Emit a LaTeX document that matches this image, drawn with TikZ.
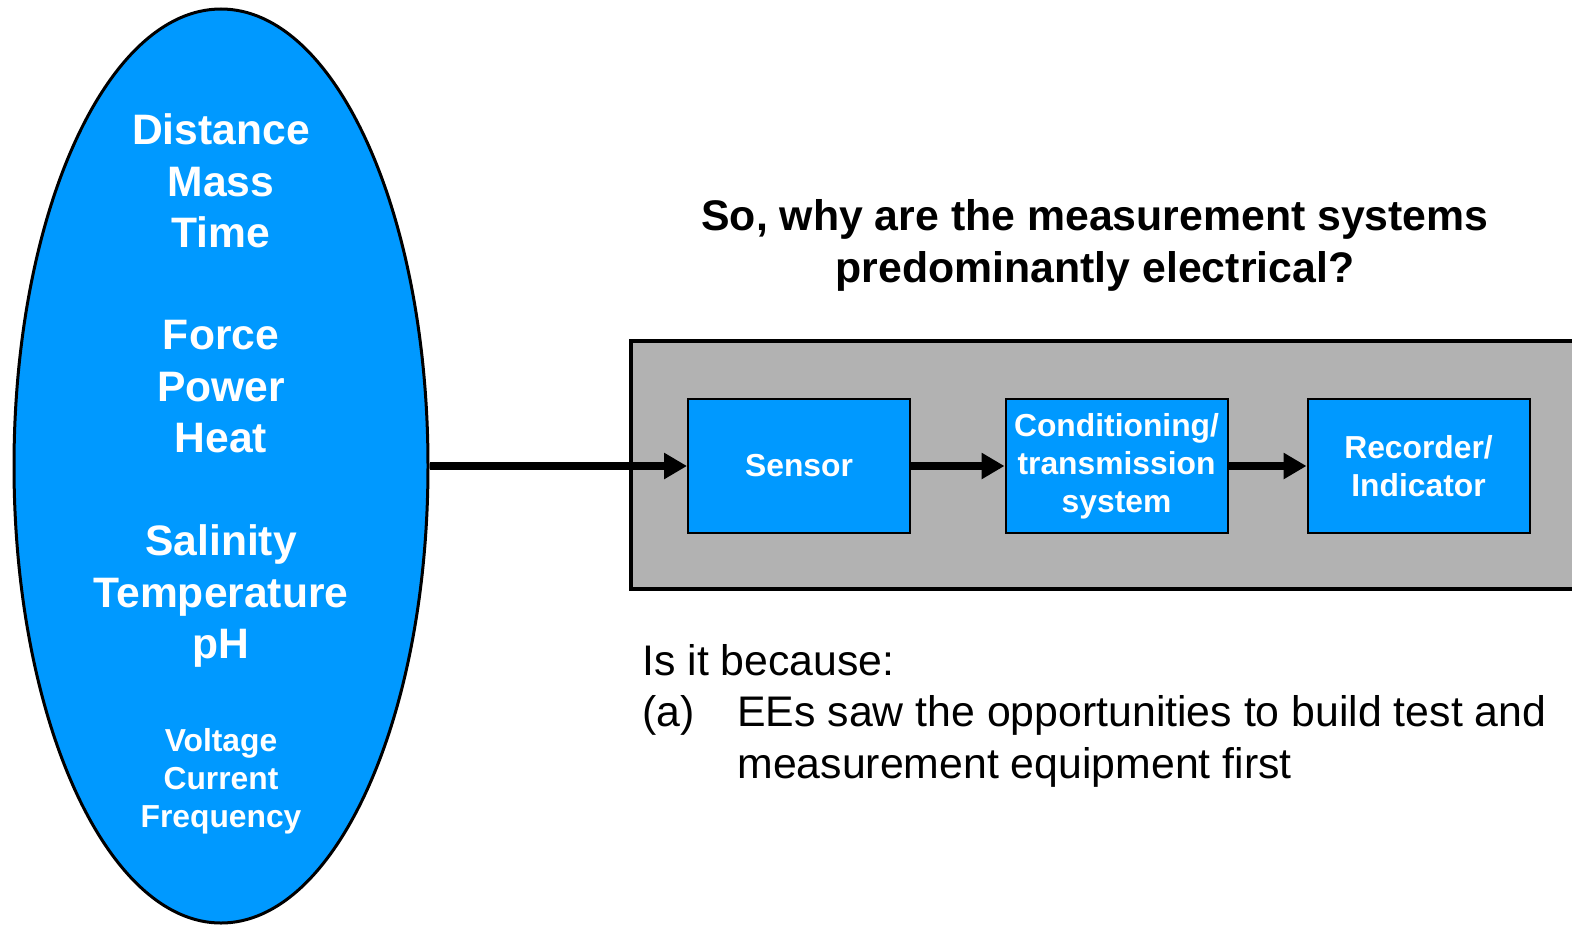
\documentclass[tikz,border=0pt]{standalone}
\usepackage{fontspec}
\setmainfont{Liberation Sans}
\usetikzlibrary{shapes.geometric,arrows.meta}
\definecolor{measblue}{RGB}{0,153,255}
\definecolor{panelgray}{RGB}{178,178,178}
\tikzset{
  quantity/.style={ellipse,draw,line width=1.5pt,fill=measblue,minimum width=207pt,minimum height=457pt,inner sep=0pt},
  qtext/.style={text=white,font=\fontsize{21.3}{25.75}\selectfont\bfseries,align=center,inner sep=0pt},
  qsmall/.style={text=white,font=\fontsize{15.9}{19}\selectfont\bfseries,align=center,inner sep=0pt},
  block/.style={rectangle,draw,line width=1pt,fill=measblue,minimum width=111pt,minimum height=67pt,inner sep=0pt,text=white,font=\fontsize{15.9}{19}\selectfont\bfseries,align=center},
  body/.style={font=\fontsize{21.4}{26}\selectfont,inner sep=0pt,anchor=base west},
  flow/.style={line width=3.75pt,-{Triangle[length=11.5pt,width=12.5pt]}}
}
\begin{document}
\begin{tikzpicture}[x=0.5pt,y=-0.5pt]
  \useasboundingbox (0,0) rectangle (1572,926);
  \clip (0,0) rectangle (1572,926);
  \draw[line width=1.75pt,fill=panelgray] (631,341) rectangle (1600,589);

  \node[quantity] (qty) at (221,466) {};
  \node[qtext] (basic) at (221,181) {Distance\\Mass\\Time};
  \node[qtext] (mech) at (221,387) {Force\\Power\\Heat};
  \node[qtext] (chem) at (221,596) {Salinity\\Temperature\\pH};
  \node[qsmall] (elec) at (221,781) {Voltage\\Current\\Frequency};

  \node[font=\fontsize{21.4}{26}\selectfont\bfseries,align=center] (title) at (1095,245)
    {So, why are the measurement systems\\predominantly electrical?};

  \node[block] (sensor) at (799,466) {Sensor};
  \node[block] (cond) at (1116.5,466) {Conditioning/\\transmission\\system};
  \node[block] (rec) at (1418.5,466) {Recorder/\\Indicator};

  \node[body] (because) at (642,675) {Is it because:};
  \node[body] (itema) at (642,726) {(a)};
  \node[body] (reasonA) at (737,726) {EEs saw the opportunities to build test and};
  \node[body] (reasonB) at (737,778) {measurement equipment first};

  \foreach \from/\to in {qty/sensor, sensor/cond, cond/rec}
    \draw[flow] (\from) -- (\to);
\end{tikzpicture}
\end{document}
